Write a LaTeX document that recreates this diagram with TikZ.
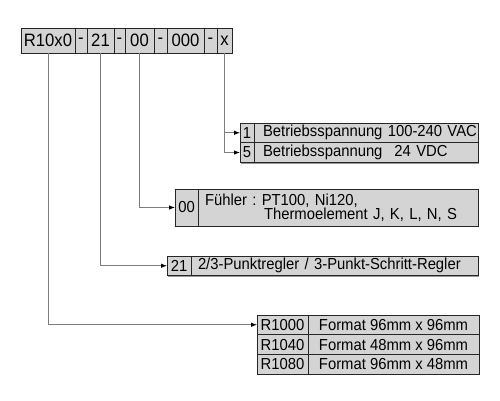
\documentclass[tikz,border=0pt]{standalone}
\usepackage{fontspec}
\setmainfont[FakeStretch=0.93]{Liberation Sans}
\usetikzlibrary{arrows.meta, positioning, shadows}
\definecolor{cellgray}{RGB}{212,212,212}
\definecolor{linegray}{RGB}{125,125,125}
\frenchspacing

\begin{document}
\begin{tikzpicture}[x=1bp, y=-1bp, >={Latex[length=6bp, width=4.5bp, color=black]}, font=\fontsize{16}{18}\selectfont,
        cell/.style={rectangle, draw=black!85, line width=0.8bp, fill=cellgray, inner sep=0pt, outer sep=0pt, minimum height=19.5bp, anchor=north west,
            drop shadow={shadow xshift=1.2bp, shadow yshift=-1.2bp, fill=black!40, opacity=1}},
        codecell/.style={cell, minimum height=25bp, font=\fontsize{18}{20}\selectfont},
        txtcell/.style={cell, align=left, text width=#1},
        link/.style={draw=linegray, line width=0.9bp}]
        \useasboundingbox (0,0) rectangle (500,400);

        % order code
        \node[codecell, minimum width=54bp] (model) at (21,28) {R10x0};
        \node[codecell, minimum width=12bp, right=0pt of model] (dash1) {-};
        \node[codecell, minimum width=27bp, right=0pt of dash1] (ctrl) {21};
        \node[codecell, minimum width=11bp, right=0pt of ctrl] (dash2) {-};
        \node[codecell, minimum width=29bp, right=0pt of dash2] (sensor) {00};
        \node[codecell, minimum width=13bp, right=0pt of sensor] (dash3) {-};
        \node[codecell, minimum width=37bp, right=0pt of dash3] (extra) {000};
        \node[codecell, minimum width=13bp, right=0pt of extra] (dash4) {-};
        \node[codecell, minimum width=15bp, right=0pt of dash4] (supply) {x};

        % supply voltage
        \node[cell, minimum width=14bp] (sup1) at (240,123) {1};
        \node[txtcell=224bp, right=0pt of sup1] (sup1txt) {\hspace*{9bp}Betriebsspannung 100-240 VAC};
        \node[cell, minimum width=14bp, minimum height=20bp, below=0pt of sup1] (sup5) {5};
        \node[txtcell=224bp, minimum height=20bp, right=0pt of sup5] (sup5txt) {\hspace*{9bp}Betriebsspannung\hspace{12bp}24 VDC};

        % sensor
        \node[cell, minimum width=23bp, minimum height=37bp] (sens00) at (175,189) {00};
        \node[txtcell=280bp, minimum height=37bp, font=\fontsize{16}{14.5}\selectfont, right=0pt of sens00] (sens00txt) {\hspace*{7bp}Fühler : PT100, Ni120,\\\hspace*{66bp}Thermoelement J, K, L, N, S};

        % controller type
        \node[cell, minimum width=24bp] (ctrl21) at (167,256) {21};
        \node[txtcell=287bp, right=0pt of ctrl21] (ctrl21txt) {\hspace*{7bp}2/3-Punktregler / 3-Punkt-Schritt-Regler};

        % housing format
        \node[cell, minimum width=51bp] (fmt1) at (257,315) {R1000};
        \node[cell, minimum width=171bp, right=0pt of fmt1] (fmt1txt) {Format 96mm x 96mm};
        \node[cell, minimum width=51bp, minimum height=20bp, below=0pt of fmt1] (fmt2) {R1040};
        \node[cell, minimum width=171bp, minimum height=20bp, right=0pt of fmt2] (fmt2txt) {Format 48mm x 96mm};
        \node[cell, minimum width=51bp, below=0pt of fmt2] (fmt3) {R1080};
        \node[cell, minimum width=171bp, right=0pt of fmt3] (fmt3txt) {Format 96mm x 48mm};

        \draw[link, ->] (model.south) |- (fmt1.west);
        \draw[link, ->] (ctrl.south) |- (ctrl21.west);
        \draw[link, ->] (sensor.south) |- (sens00.west);
        \draw[link, ->] (supply.south) |- (sup1.west);
        \draw[link, ->] (supply.south) |- (sup5.west);
    \end{tikzpicture}
\end{document}
